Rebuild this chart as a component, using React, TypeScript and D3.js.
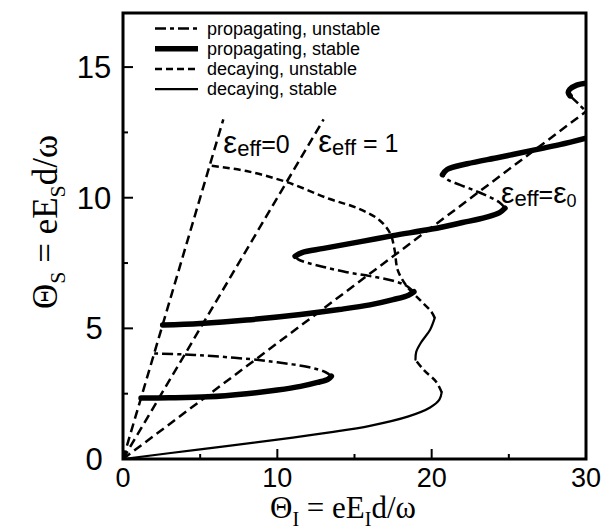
import React from 'react';
import * as d3 from 'd3';

type Pt = [number, number];

// reference lines from the origin
const lineEps0: Pt[] = [[0, 0], [6.5, 13]];
const lineEps1: Pt[] = [[0, 0], [13, 13]];
const lineEpsE0: Pt[] = [[0, 0], [30, 13.3]];

// decaying branch
const decayStableA: Pt[] = [
  [0, 0], [5, 0.37], [10, 0.74], [13.4, 1.02], [16, 1.27], [18.5, 1.63],
  [19.9, 1.97], [20.5, 2.27], [20.65, 2.55],
];
const decayUnstableA: Pt[] = [[20.65, 2.55], [20.3, 2.95], [19.5, 3.4], [18.95, 3.8]];
const decayStableB: Pt[] = [[18.95, 3.8], [19.0, 4.1], [19.3, 4.45], [19.9, 4.95], [20.2, 5.4]];
const decayUnstableB: Pt[] = [
  [20.2, 5.4], [20.0, 5.62], [19.25, 6.08], [18.4, 6.6], [17.8, 7.23], [17.6, 8.0],
  [17.3, 8.65], [16.6, 9.15], [15.2, 9.6], [13.4, 9.95], [10.6, 10.6], [8, 11.02], [5.62, 11.23],
];

// propagating branches
const propStableA: Pt[] = [
  [1.17, 2.33], [3, 2.34], [5.5, 2.38], [8, 2.5], [10, 2.64], [11.5, 2.78],
  [12.6, 2.93], [13.3, 3.06], [13.5, 3.17],
];
const propUnstableA: Pt[] = [
  [13.5, 3.17], [13.1, 3.33], [12, 3.52], [10, 3.7], [8.8, 3.79], [6, 3.93], [4, 4.0], [2.02, 4.04],
];
const propStableB: Pt[] = [
  [2.57, 5.13], [5, 5.19], [8, 5.32], [11.5, 5.53], [14, 5.72], [16, 5.9],
  [17.5, 6.1], [18.5, 6.27], [18.85, 6.4],
];
const propUnstableB: Pt[] = [
  [18.85, 6.4], [18.3, 6.65], [17.5, 6.82], [16, 7.0], [14.5, 7.15], [13, 7.35],
  [12, 7.5], [11.35, 7.64], [11.15, 7.76],
];
const propStableC: Pt[] = [
  [11.15, 7.76], [11.6, 7.9], [13, 8.06], [15.4, 8.32], [17.5, 8.55], [20, 8.8],
  [22, 9.05], [23.5, 9.25], [24.4, 9.43], [24.75, 9.6],
];
const propUnstableC: Pt[] = [
  [24.75, 9.6], [24.4, 9.82], [23.1, 10.2], [21.8, 10.5], [21.0, 10.7], [20.7, 10.88],
];
const propStableD: Pt[] = [
  [20.7, 10.88], [21.0, 11.08], [22.3, 11.3], [24.4, 11.55], [26.6, 11.82], [28.3, 12.03], [30, 12.28],
];
const propStableE: Pt[] = [[30, 14.38], [29.4, 14.31], [28.95, 14.15], [28.85, 14.02], [28.97, 13.9]];
const propUnstableE: Pt[] = [[28.97, 13.9], [29.5, 13.6], [30, 13.3]];

const xTicks = [0, 10, 20, 30];
const xMinor = [5, 15, 25];
const yTicks = [0, 5, 10, 15];
const yMinor = [2.5, 7.5, 12.5];

const legendItems = [
  { label: 'propagating, unstable', kind: 'propUnstable' },
  { label: 'propagating, stable', kind: 'propStable' },
  { label: 'decaying, unstable', kind: 'decayUnstable' },
  { label: 'decaying, stable', kind: 'decayStable' },
];

const styles: Record<string, { width: number; dash?: string }> = {
  propUnstable: { width: 2.5, dash: '11,4,4,4' },
  propStable: { width: 5.5 },
  decayUnstable: { width: 2.5, dash: '7,4' },
  decayStable: { width: 2.2 },
  ref: { width: 2.5, dash: '9,5' },
};

const sans = '"Liberation Sans", Arial, sans-serif';
const serif = '"Liberation Serif", "Times New Roman", serif';

export default function App() {
  const width = 612;
  const height = 529;
  const margin = { left: 123, right: 26, top: 13, bottom: 70 };
  const x = d3.scaleLinear().domain([0, 30]).range([margin.left, width - margin.right]);
  const y = d3.scaleLinear().domain([0, 17.07]).range([height - margin.bottom, margin.top]);
  const line = d3
    .line<Pt>()
    .x(d => x(d[0]))
    .y(d => y(d[1]))
    .curve(d3.curveCatmullRom.alpha(0.5));

  const series: [Pt[], string][] = [
    [lineEps0, 'ref'],
    [lineEps1, 'ref'],
    [lineEpsE0, 'ref'],
    [decayStableA, 'decayStable'],
    [decayUnstableA, 'decayUnstable'],
    [decayStableB, 'decayStable'],
    [decayUnstableB, 'decayUnstable'],
    [propStableA, 'propStable'],
    [propUnstableA, 'propUnstable'],
    [propStableB, 'propStable'],
    [propUnstableB, 'propUnstable'],
    [propStableC, 'propStable'],
    [propUnstableC, 'propUnstable'],
    [propStableD, 'propStable'],
    [propStableE, 'propStable'],
    [propUnstableE, 'propUnstable'],
  ];

  const x0 = x(0);
  const x1 = x(30);
  const yb = y(0);
  const yt = y(17.07);

  return (
    <svg width={width} height={height} style={{ position: 'absolute', left: 0, top: 0 }}>
      <rect width={width} height={height} fill="#fff" />
      <defs>
        <clipPath id="plot">
          <rect x={x0} y={yt} width={x1 - x0} height={yb - yt} />
        </clipPath>
      </defs>
      <g clipPath="url(#plot)">
        {series.map(([pts, kind], i) => (
          <path
            key={i}
            d={line(pts) || ''}
            fill="none"
            stroke="#000"
            strokeWidth={styles[kind].width}
            strokeDasharray={styles[kind].dash}
            strokeLinecap={styles[kind].dash ? 'butt' : 'round'}
            strokeLinejoin="round"
          />
        ))}
      </g>

      {/* ticks */}
      {xTicks.map(t => (
        <line key={'xt' + t} x1={x(t)} x2={x(t)} y1={yb} y2={yb - 10} stroke="#000" strokeWidth={2} />
      ))}
      {xMinor.map(t => (
        <line key={'xm' + t} x1={x(t)} x2={x(t)} y1={yb} y2={yb - 5} stroke="#000" strokeWidth={2} />
      ))}
      {yTicks.map(t => (
        <line key={'yt' + t} x1={x0} x2={x0 + 10} y1={y(t)} y2={y(t)} stroke="#000" strokeWidth={2} />
      ))}
      {yMinor.map(t => (
        <line key={'ym' + t} x1={x0} x2={x0 + 5} y1={y(t)} y2={y(t)} stroke="#000" strokeWidth={2} />
      ))}
      <rect x={x0} y={yt} width={x1 - x0} height={yb - yt} fill="none" stroke="#000" strokeWidth={3} />

      {/* tick labels */}
      {xTicks.map(t => (
        <text key={'xl' + t} x={x(t)} y={yb + 28} textAnchor="middle" fontFamily={sans} fontSize={27}>
          {t}
        </text>
      ))}
      {yTicks.map(t => (
        <text key={'yl' + t} x={94} y={y(t) + 11} textAnchor="middle" fontFamily={sans} fontSize={31}>
          {t}
        </text>
      ))}

      {/* axis titles */}
      <text x={343} y={518} textAnchor="middle" fontFamily={serif} fontSize={31}>
        Θ<tspan fontSize={20} dy={8}>I</tspan>
        <tspan dy={-8}> = eE</tspan>
        <tspan fontSize={20} dy={8}>I</tspan>
        <tspan dy={-8}>d/ω</tspan>
      </text>
      <text
        transform="translate(57,222) rotate(-90)"
        textAnchor="middle"
        fontFamily={serif}
        fontSize={35}
      >
        Θ<tspan fontSize={22} dy={8}>S</tspan>
        <tspan dy={-8}> = eE</tspan>
        <tspan fontSize={22} dy={8}>S</tspan>
        <tspan dy={-8}>d/ω</tspan>
      </text>

      {/* curve labels */}
      <text x={x(6.5)} y={y(11.72)} fontFamily={sans} fontSize={25}>
        <tspan fontSize={31}>ε</tspan>
        <tspan fontSize={22} dy={3}>eff</tspan>
        <tspan dy={-3}>=0</tspan>
      </text>
      <text x={x(12.65)} y={y(11.75)} fontFamily={sans} fontSize={25}>
        <tspan fontSize={31}>ε</tspan>
        <tspan fontSize={22} dy={3}>eff</tspan>
        <tspan dy={-3}> = 1</tspan>
      </text>
      <text x={x(24.5)} y={y(9.8)} fontFamily={sans} fontSize={25}>
        <tspan fontSize={30}>ε</tspan>
        <tspan fontSize={22} dy={3}>eff</tspan>
        <tspan dy={-3}>=</tspan>
        <tspan fontSize={30}>ε</tspan>
        <tspan fontSize={18} dy={4}>0</tspan>
      </text>

      {/* legend */}
      {legendItems.map((it, i) => {
        const ly = 28.5 + i * 20.2;
        const st = styles[it.kind];
        return (
          <g key={it.label}>
            <line x1={155} x2={198} y1={ly} y2={ly} stroke="#000" strokeWidth={st.width} strokeDasharray={st.dash} />
            <text x={207} y={ly + 6} fontFamily={sans} fontSize={18}>
              {it.label}
            </text>
          </g>
        );
      })}
    </svg>
  );
}
